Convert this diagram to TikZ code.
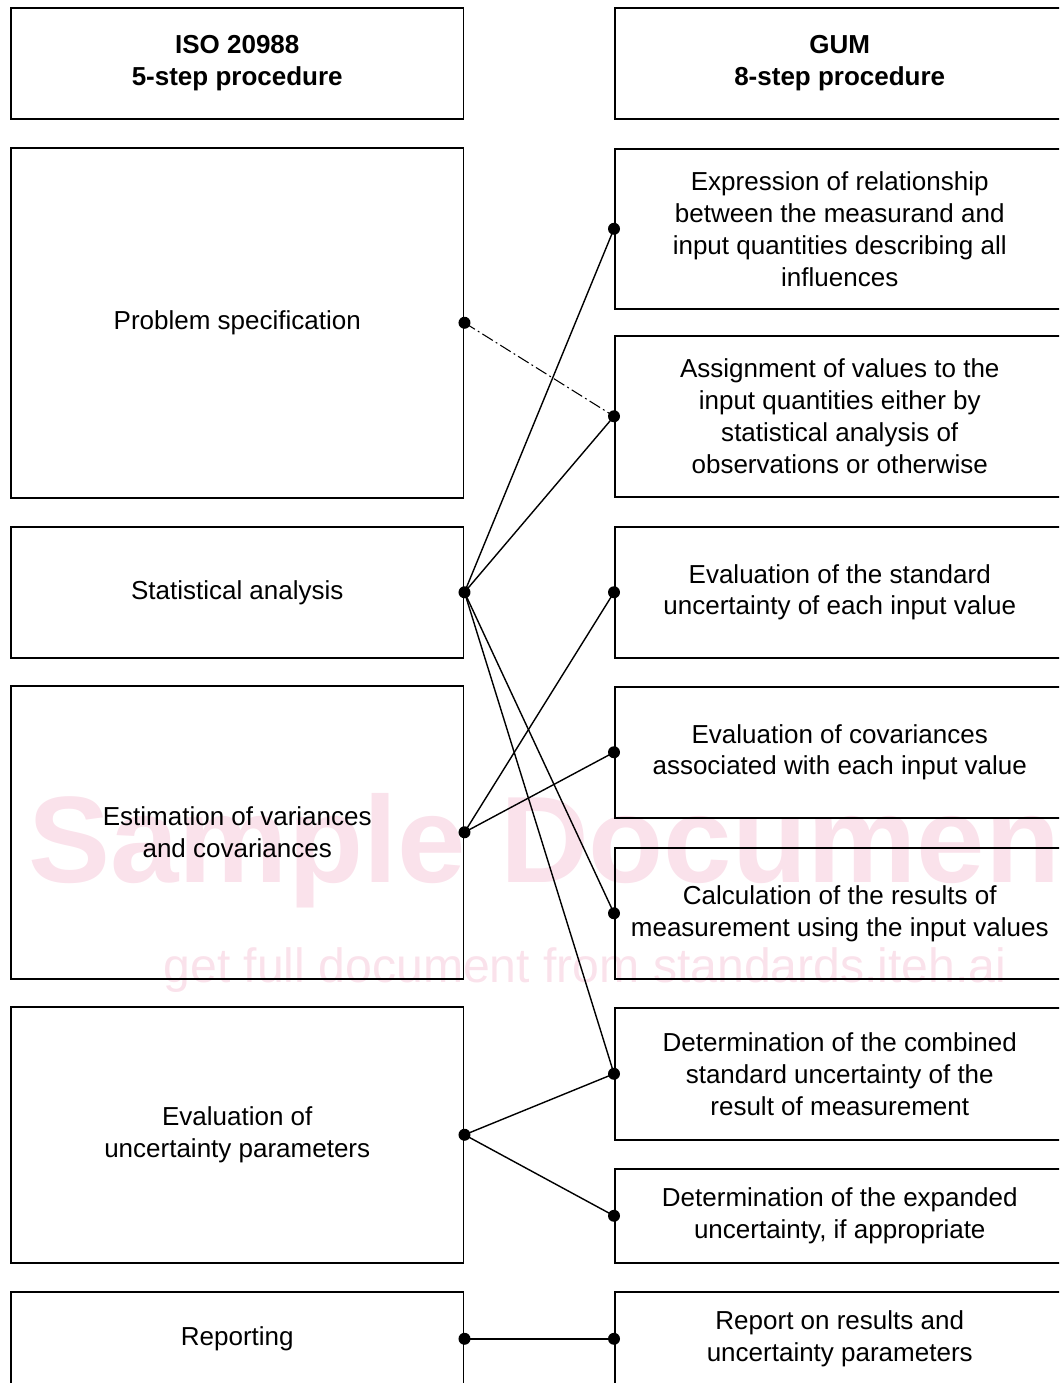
\documentclass[tikz,border=0pt]{standalone}
\usepackage{fontspec}
\setmainfont{Liberation Sans}
\definecolor{markpink}{RGB}{250,226,235}
\tikzset{box/.style = {draw, line width=0.9pt, anchor=north west, align=center, inner sep=0,
                       font=\fontsize{14.8}{18.2}\selectfont}}
\tikzset{lbox/.style = {box, minimum width=9.06cm}}
\tikzset{rbox/.style = {box, minimum width=9.0cm}}
\tikzset{headfont/.style = {font=\fontsize{14.8}{18.2}\bfseries\selectfont}}
\tikzset{dot/.style = {fill, circle, inner sep=0, minimum size=0.24cm}}
\tikzset{link/.style = {line width=0.8pt}}
\tikzset{dashdot/.style = {line width=0.6pt, dash pattern=on 7pt off 2pt on 1pt off 2pt}}

\begin{document}
\begin{tikzpicture}[x=0.02cm, y=-0.02cm]
      \useasboundingbox (0,0) rectangle (1059,1383);
      \clip (0,0) rectangle (1059,1383);

      % watermark
      \node [anchor=base, text=markpink, font=\fontsize{70}{70}\bfseries\selectfont] (wmark) at (565,882) {Sample Document};
      \node [anchor=base, text=markpink, font=\fontsize{27.4}{28}\selectfont] (wlink) at (585,982) {get full document from standards.iteh.ai};

      % left column
      \node [lbox, headfont, minimum height=2.22cm] (lhead) at (10,7) {ISO 20988\\5-step procedure};
      \node [lbox, minimum height=7.0cm] (prob) at (10,147) {Problem specification};
      \node [lbox, minimum height=2.62cm] (stat) at (10,526) {Statistical analysis};
      \node [lbox, minimum height=5.86cm] (estim) at (10,685) {Estimation of variances\\and covariances};
      \node [lbox, minimum height=5.12cm] (evalu) at (10,1006) {Evaluation of\\uncertainty parameters};
      \node [lbox, minimum height=1.88cm] (lrep) at (10,1291) {Reporting};

      % right column
      \node [rbox, headfont, minimum height=2.22cm] (rhead) at (614,7) {GUM\\8-step procedure};
      \node [rbox, minimum height=3.2cm] (expr) at (614,148) {Expression of relationship\\between the measurand and\\input quantities describing all\\influences};
      \node [rbox, minimum height=3.22cm] (assign) at (614,335) {Assignment of values to the\\input quantities either by\\statistical analysis of\\observations or otherwise};
      \node [rbox, minimum height=2.62cm] (evstd) at (614,526) {Evaluation of the standard\\uncertainty of each input value};
      \node [rbox, minimum height=2.62cm] (evcov) at (614,686) {Evaluation of covariances\\associated with each input value};
      \node [rbox, minimum height=2.62cm] (calc) at (614,847) {Calculation of the results of\\measurement using the input values};
      \node [rbox, minimum height=2.64cm] (detc) at (614,1007) {Determination of the combined\\standard uncertainty of the\\result of measurement};
      \node [rbox, minimum height=1.88cm] (dete) at (614,1168) {Determination of the expanded\\uncertainty, if appropriate};
      \node [rbox, minimum height=1.88cm] (rrep) at (614,1291) {Report on results and\\uncertainty parameters};

      % links
      \draw [dashdot] (prob.east) -- (assign.west);
      \draw [link] (stat.east) -- (expr.west);
      \draw [link] (stat.east) -- (assign.west);
      \draw [link] (stat.east) -- (calc.west);
      \draw [link] (stat.east) -- (detc.west);
      \draw [link] (estim.east) -- (evstd.west);
      \draw [link] (estim.east) -- (evcov.west);
      \draw [link] (evalu.east) -- (detc.west);
      \draw [link] (evalu.east) -- (dete.west);
      \draw [link] (lrep.east) -- (rrep.west);

      \foreach \n in {prob, stat, estim, evalu, lrep}
        \node [dot] at (\n.east) {};
      \foreach \n in {expr, assign, evstd, evcov, calc, detc, dete, rrep}
        \node [dot] at (\n.west) {};
    \end{tikzpicture}
\end{document}
